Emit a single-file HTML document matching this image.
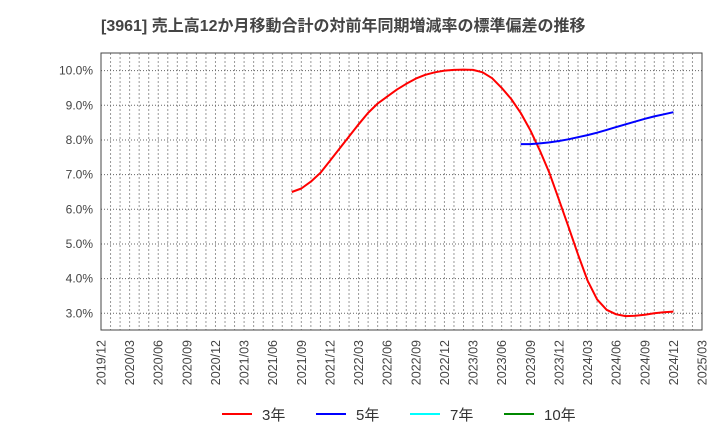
<!DOCTYPE html>
<html><head><meta charset="utf-8"><style>
body{margin:0;background:#fff;}
svg{font-family:"Liberation Sans","Noto Sans CJK JP",sans-serif;}
</style></head><body>
<svg id="chart" width="720" height="440">
<text x="101" y="31" font-size="16" font-weight="bold" fill="#444">[3961]  売上高12か月移動合計の対前年同期増減率の標準偏差の推移</text>
<g id="grid"></g><g id="axes"></g><g id="series"></g>
<rect x="101" y="53" width="601" height="277" fill="none" stroke="#444" stroke-width="1"/>
<g font-size="15" fill="#333">
<line x1="222" y1="414" x2="252" y2="414" stroke="#f00" stroke-width="2"/><text x="262" y="420">3年</text>
<line x1="316" y1="414" x2="346" y2="414" stroke="#00f" stroke-width="2"/><text x="356" y="420">5年</text>
<line x1="410" y1="414" x2="440" y2="414" stroke="#0ff" stroke-width="2"/><text x="450" y="420">7年</text>
<line x1="504" y1="414" x2="534" y2="414" stroke="#080" stroke-width="2"/><text x="544" y="420">10年</text>
</g>
</svg>
<script>
const xTickLabels=["2019/12","2020/03","2020/06","2020/09","2020/12","2021/03","2021/06","2021/09","2021/12","2022/03","2022/06","2022/09","2022/12","2023/03","2023/06","2023/09","2023/12","2024/03","2024/06","2024/09","2024/12","2025/03"];
const yTicks=[3,4,5,6,7,8,9,10];
const s3Start=20; // months after 2019/12 (2021/08)
const s3=[6.5,6.6,6.8,7.05,7.4,7.75,8.1,8.45,8.78,9.05,9.25,9.45,9.62,9.77,9.88,9.95,10.0,10.02,10.03,10.02,9.95,9.78,9.5,9.18,8.78,8.28,7.7,7.05,6.28,5.5,4.7,3.95,3.4,3.1,2.97,2.92,2.93,2.96,3.0,3.03,3.05];
const s5Start=44; // 2023/08
const s5=[7.88,7.88,7.9,7.93,7.97,8.02,8.08,8.14,8.21,8.29,8.37,8.45,8.53,8.61,8.68,8.74,8.8];
const NS="http://www.w3.org/2000/svg";
const L=101,R=702,T=53,B=330,months=63;
const xs=m=>L+m*(R-L)/months;
const ys=v=>313.3-(v-3)*34.67;
const grid=document.getElementById('grid'),axes=document.getElementById('axes'),ser=document.getElementById('series');
function mk(tag,attrs,parent){const e=document.createElementNS(NS,tag);for(const k in attrs)e.setAttribute(k,attrs[k]);parent.appendChild(e);return e;}
for(let m=1;m<months;m++){
 const l=mk('line',{x1:xs(m),x2:xs(m),y1:T,y2:B,stroke:'#999','stroke-dasharray':'2,2','stroke-width':1},grid);
 
 
}
yTicks.forEach(v=>{
 const l=mk('line',{x1:L,x2:R,y1:ys(v),y2:ys(v),stroke:'#666','stroke-dasharray':'1,2','stroke-width':1},grid);
 
 
 const t=mk('text',{x:L-8,y:ys(v)+4,'text-anchor':'end','font-size':12,fill:'#444'},axes);
 t.textContent=v.toFixed(1)+'%';
 
 
});
xTickLabels.forEach((s,i)=>{
 const x=xs(i*3);
 const t=mk('text',{x:0,y:0,transform:`translate(${x+4.5},${B+10}) rotate(-90)`,'text-anchor':'end','font-size':12.5,fill:'#444'},axes);
 t.textContent=s;
 
 
});
function line(arr,start,color,name){
 const p=arr.map((v,i)=>xs(start+i).toFixed(1)+','+ys(v).toFixed(1)).join(' ');
 const e=mk('polyline',{points:p,fill:'none',stroke:color,'stroke-width':2,'stroke-linejoin':'round'},ser);
 
 
}
line(s3,s3Start,'#f00','series-3y');
line(s5,s5Start,'#00f','series-5y');
</script>
</body></html>
